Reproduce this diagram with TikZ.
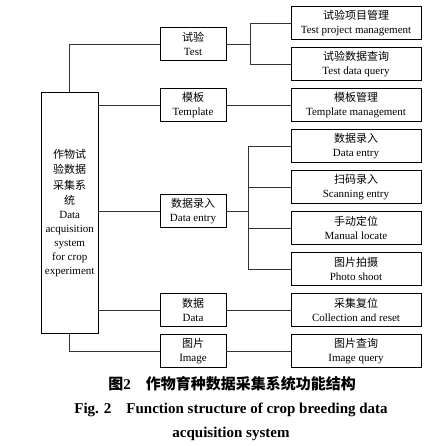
\documentclass[tikz,border=0pt]{standalone}
\usepackage{fontspec}
\setmainfont{Liberation Serif}
\newfontfamily\cjk{Noto Sans CJK SC}
\begin{document}
\begin{tikzpicture}[x=1pt,y=-1pt]
  \tikzstyle{every node}=[font=\fontsize{11}{14}\selectfont,align=center,inner sep=0pt]
  \tikzstyle{mbox}=[draw,line width=0.9pt,minimum width=66pt,minimum height=33pt]
  \tikzstyle{rbox}=[draw,line width=0.9pt,minimum width=130pt,minimum height=33pt]
  \tikzstyle{link}=[draw=black!80,line width=0.8pt]
  \useasboundingbox (0,0) rectangle (442,446);
  % root
  \node[draw,line width=0.9pt,minimum width=57pt,minimum height=241pt] (root) at (69.7,213)
    {{\cjk 作物试}\\[1.5pt]{\cjk 验数据}\\[1.5pt]{\cjk 采集系}\\[1.5pt]{\cjk 统}\\Data\\acquisition\\system\\for crop\\experiment};
  % second level
  \node[mbox] (test)  at (193,44)  {{\cjk 试验}\\Test};
  \node[mbox] (tmpl)  at (193,105) {{\cjk 模板}\\Template};
  \node[mbox] (entry) at (193,211) {{\cjk 数据录入}\\Data entry};
  \node[mbox] (data)  at (193,310) {{\cjk 数据}\\Data};
  \node[mbox] (image) at (193,351) {{\cjk 图片}\\Image};
  % third level
  \node[rbox] (projmgmt)  at (356,23)  {{\cjk 试验项目管理}\\Test project management};
  \node[rbox] (dataquery) at (356,64)  {{\cjk 试验数据查询}\\Test data query};
  \node[rbox] (tmplmgmt)  at (356,105) {{\cjk 模板管理}\\Template management};
  \node[rbox] (dataentry) at (356,146) {{\cjk 数据录入}\\Data entry};
  \node[rbox] (scan)      at (356,187) {{\cjk 扫码录入}\\Scanning entry};
  \node[rbox] (locate)    at (356,228) {{\cjk 手动定位}\\Manual locate};
  \node[rbox] (photo)     at (356,269) {{\cjk 图片拍摄}\\Photo shoot};
  \node[rbox] (reset)     at (356,310) {{\cjk 采集复位}\\Collection and reset};
  \node[rbox] (imgquery)  at (356,351) {{\cjk 图片查询}\\Image query};
  % connectors
  \draw[link] (root.north) |- (test.west);
  \draw[link] (root.south) |- (image.west);
  \draw[link] (root.east |- tmpl.west) -- (tmpl.west);
  \draw[link] (root.east |- entry.west) -- (entry.west);
  \draw[link] (root.east |- data.west) -- (data.west);
  \coordinate (tf) at ([xshift=24pt]test.east);
  \draw[link] (test.east) -- (tf);
  \draw[link] (projmgmt.west) -| (tf) |- (dataquery.west);
  \draw[link] (tmpl.east) -- (tmplmgmt.west);
  \coordinate (ef) at ([xshift=22pt]entry.east);
  \draw[link] (entry.east) -- (ef);
  \draw[link] (dataentry.west) -| (ef) |- (photo.west);
  \draw[link] (ef |- scan.west) -- (scan.west);
  \draw[link] (ef |- locate.west) -- (locate.west);
  \draw[link] (data.east) -- (reset.west);
  \draw[link] (image.east) -- (imgquery.west);
  % caption
  \node[anchor=base,font=\fontsize{15}{18}\selectfont\bfseries] (capcn) at (232,389)
    {{\cjk 图}2\quad{\cjk 作物育种数据采集系统功能结构}};
  \node[anchor=base,font=\fontsize{15}{24}\selectfont\bfseries] (capen) at (231,413)
    {Fig. 2\quad Function structure of crop breeding data};
  \node[anchor=base,font=\fontsize{15}{24}\selectfont\bfseries] (capen2) at (231,437)
    {acquisition system};
\end{tikzpicture}
\end{document}
